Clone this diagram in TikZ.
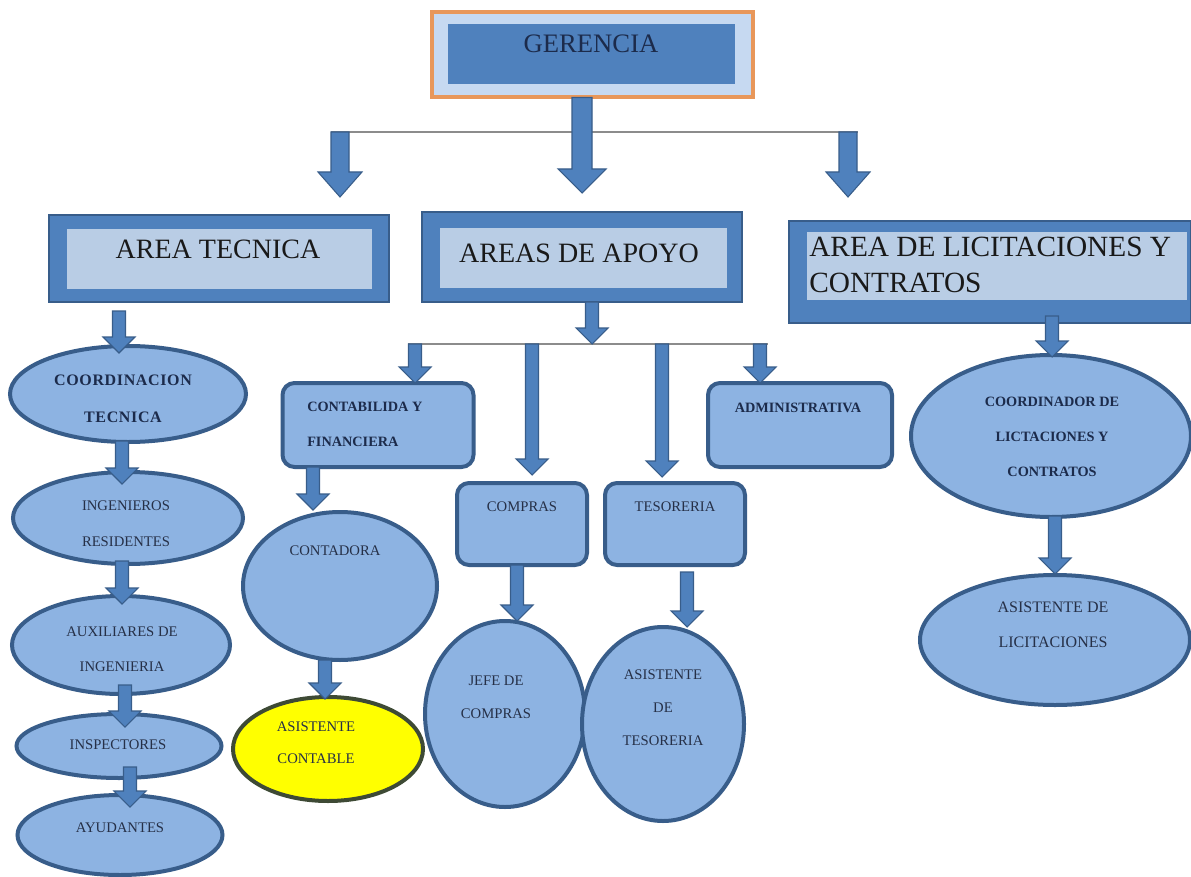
\documentclass[tikz,border=0pt]{standalone}
\usepackage{fontspec}
\setmainfont{Liberation Serif}
\newfontfamily\widebold[LetterSpace=4]{Liberation Serif}
\usetikzlibrary{shapes.geometric,calc}

\definecolor{bluemid}{HTML}{4F81BD}
\definecolor{blueedge}{HTML}{385D8A}
\definecolor{bluelight}{HTML}{B9CDE5}
\definecolor{ellfill}{HTML}{8DB3E2}
\definecolor{orangeedge}{HTML}{E8975A}
\definecolor{gerfill}{HTML}{C6D9F1}
\definecolor{navy}{HTML}{1C2B4B}
\definecolor{labelcol}{HTML}{263047}
\definecolor{linegray}{HTML}{8C8C8C}
\definecolor{yellowedge}{HTML}{3E4A35}
\definecolor{yellowfill}{HTML}{FFFF00}

\tikzset{
  sz/.style 2 args={minimum width=#1*0.75pt, minimum height=#2*0.75pt, inner sep=0pt, outer sep=0pt},
  ovalbox/.style={ellipse, draw=blueedge, line width=3pt, fill=ellfill},
  roundbox/.style={rectangle, rounded corners=9pt, draw=blueedge, line width=3pt, fill=ellfill},
  areaouter/.style={rectangle, draw=blueedge, line width=1.5pt, fill=bluemid},
  areainner/.style={rectangle, fill=bluelight},
  bigtxt/.style={font=\fontsize{21}{27}\selectfont, text=black!90, inner sep=0pt},
  boldlbl/.style={font=\bfseries\fontsize{10.7}{#1}\selectfont, text=navy, inner sep=0pt, align=center},
  boldlbl/.default=26,
  lbl/.style={font=\fontsize{11}{#1}\selectfont, text=labelcol, inner sep=0pt, align=center},
  lbl/.default=26,
  blkfill/.style={fill=bluemid, draw=blueedge, line width=0.8pt},
  thinline/.style={draw=linegray, line width=1.2pt},
}

% block arrow between two named coordinates: start, end, half shaft, half head, head length (px)
\newcommand{\blkarrow}[5]{%
  \filldraw[blkfill] let \p1=(#1), \p2=(#2) in
    (\x1-#3*0.75pt,\y1) -- (\x1+#3*0.75pt,\y1) -- (\x1+#3*0.75pt,\y2+#5*0.75pt)
    -- (\x1+#4*0.75pt,\y2+#5*0.75pt) -- (\x1,\y2) -- (\x1-#4*0.75pt,\y2+#5*0.75pt)
    -- (\x1-#3*0.75pt,\y2+#5*0.75pt) -- cycle;}
% small arrow: name, x, ystart, yend
\newcommand{\sarrow}[4]{%
  \coordinate (#1s) at (#2,#3); \coordinate (#1e) at (#2,#4);
  \blkarrow{#1s}{#1e}{6.5}{16}{16}}
\newcommand{\barrow}[4]{%
  \coordinate (#1s) at (#2,#3); \coordinate (#1e) at (#2,#4);
  \blkarrow{#1s}{#1e}{9}{22}{25}}

\begin{document}
\begin{tikzpicture}[x=0.75pt,y=-0.75pt]
\useasboundingbox (0,0) rectangle (1191,877);
\fill[white] (0,0) rectangle (1191,877);

% GERENCIA
\node[rectangle, sz={321}{85}, draw=orangeedge, line width=3pt, fill=gerfill] (gerout) at (592,55) {};
\node[areainner, sz={287}{60}, fill=bluemid] (gerin) at (591,54) {};
\node[font=\fontsize{20}{24}\selectfont, text=navy, inner sep=0pt] (gertxt) at (591,44) {GERENCIA};

% area boxes
\node[areaouter, sz={340}{87}] (tecout) at (218.5,258.5) {};
\node[areainner, sz={305}{60}] (tecin) at (219.5,259) {};
\node[bigtxt] (tectxt) at (218,249) {AREA TECNICA};

\node[areaouter, sz={320}{90}] (apoout) at (582,257) {};
\node[areainner, sz={287}{60}] (apoin) at (583,258) {};
\node[bigtxt] (apotxt) at (579,253) {AREAS DE APOYO};

\node[areaouter, sz={402}{102}] (licout) at (990,272) {};
\node[areainner, sz={380}{68}] (licin) at (997,266) {};
\node[bigtxt, font=\fontsize{22}{27}\selectfont, align=left, anchor=west] (lictxt) at (809,265) {AREA DE LICITACIONES Y\\CONTRATOS};

% left column
\node[ovalbox, sz={236}{96}] (ct) at (128,394) {};
\node[boldlbl=27.75, font=\widebold\bfseries\fontsize{12}{27.75}\selectfont] (cttxt) at (123,398.5) {COORDINACION\\TECNICA};
\node[ovalbox, sz={230}{92}] (ing) at (128,518) {};
\node[lbl=27] (ingtxt) at (126,524) {INGENIEROS\\RESIDENTES};
\node[ovalbox, sz={218}{98}] (aux) at (121,645) {};
\node[lbl=26.25] (auxtxt) at (122,649.5) {AUXILIARES DE\\INGENIERIA};
\node[ovalbox, sz={205}{64}] (insp) at (119,746) {};
\node[lbl] (insptxt) at (118,745) {INSPECTORES};
\node[ovalbox, sz={205}{80}] (ayu) at (120,835) {};
\node[lbl] (ayutxt) at (120,828) {AYUDANTES};

% support areas
\node[roundbox, sz={191}{84}] (contab) at (378,425) {};
\node[boldlbl=26.25, align=left, anchor=west] (contabtxt) at (307,424.5) {CONTABILIDA Y\\FINANCIERA};
\node[roundbox, sz={184}{84}] (admin) at (800,425) {};
\node[boldlbl] (admintxt) at (798,408) {ADMINISTRATIVA};
\node[roundbox, sz={130}{82}] (compras) at (522,524) {};
\node[lbl] (comprastxt) at (522,507) {COMPRAS};
\node[roundbox, sz={140}{82}] (tesor) at (675,524) {};
\node[lbl] (tesortxt) at (675,507) {TESORERIA};

\node[ovalbox, sz={194}{148}] (contadora) at (340,586) {};
\node[lbl] (contadoratxt) at (335,551) {CONTADORA};
\node[ellipse, draw=yellowedge, line width=3pt, fill=yellowfill, sz={190}{104}] (asistcont) at (328,749) {};
\node[lbl=24] (asistconttxt) at (316,743) {ASISTENTE\\CONTABLE};
\node[ovalbox, sz={160}{186}] (jefe) at (505,714) {};
\node[lbl=24.75] (jefetxt) at (496,697) {JEFE DE\\COMPRAS};
\node[ovalbox, sz={162}{194}] (asisttes) at (663,724) {};
\node[lbl=24.75] (asisttestxt) at (663,708) {ASISTENTE\\DE\\TESORERIA};

% licitaciones
\node[ovalbox, sz={280}{162}] (coordlic) at (1051,436) {};
\node[boldlbl=26.25] (coordlictxt) at (1052,437) {COORDINADOR DE\\LICTACIONES Y\\CONTRATOS};
\node[ovalbox, sz={270}{130}] (asistlic) at (1055,640) {};
\node[lbl=26.25, font=\fontsize{12}{26.25}\selectfont] (asistlictxt) at (1053,625) {ASISTENTE DE\\LICITACIONES};

% thin connector lines
\coordinate (l1a) at (331,132); \coordinate (l1b) at (858,132);
\draw[thinline] (l1a) -- (l1b);
\coordinate (l2a) at (408,344); \coordinate (l2b) at (768,344);
\draw[thinline] (l2a) -- (l2b);

% block arrows
\coordinate (a0s) at (gerout.south -| 582,0); \coordinate (a0e) at (582,193);
\blkarrow{a0s}{a0e}{10}{24}{24}
\barrow{a1}{340}{132}{197}
\barrow{a2}{848}{132}{197}

\sarrow{b0}{119}{311}{353}
\sarrow{b1}{122}{441}{484}
\sarrow{b2}{122}{561}{604}
\sarrow{b3}{125}{685}{727}
\sarrow{b4}{130}{767}{807}

\sarrow{c0}{592}{302}{344}
\sarrow{c1}{415}{344}{383}
\sarrow{c2}{532}{344}{475}
\sarrow{c3}{662}{344}{477}
\sarrow{c4}{760}{344}{383}

\sarrow{d1}{313}{467}{510}
\sarrow{d2}{325}{660}{699}
\sarrow{d3}{517}{565}{621}
\sarrow{d4}{687}{572}{627}

\sarrow{e1}{1052}{316}{357}
\sarrow{e2}{1055}{516}{574}
\end{tikzpicture}
\end{document}
